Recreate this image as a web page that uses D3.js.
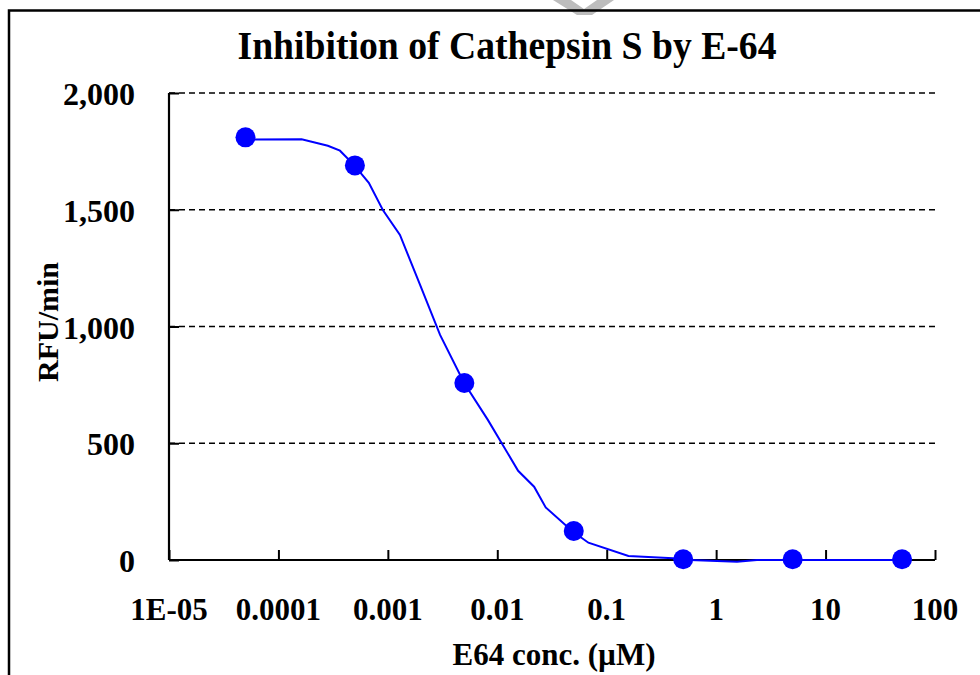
<!DOCTYPE html>
<html>
<head>
<meta charset="utf-8">
<script src="https://cdn.jsdelivr.net/npm/d3@7"></script>
<style>
  html, body { margin: 0; padding: 0; background: #fff; }
  svg { display: block; }
</style>
</head>
<body>
<svg id="chart" width="980" height="675"></svg>
<script>
// ---- data ----
const titleText = "Inhibition of Cathepsin S by E-64";
const xTitle = "E64 conc. (\u00b5M)";
const yTitle = "RFU/min";

// measured points (E64 concentration in µM, RFU/min)
const concentrations = [0.00005, 0.0005, 0.005, 0.05, 0.5, 5, 50];
const rfuValues = [1810, 1690, 758, 124, 3, 3, 3];

// fitted curve
const fitConc = [0.00005, 0.000163, 0.000283, 0.000365, 0.00049, 0.00067, 0.0009, 0.00129, 0.00197, 0.003, 0.00498, 0.0082, 0.0155, 0.0217, 0.0277, 0.0483, 0.068, 0.158, 0.405, 0.5, 1.55, 2.36, 50];
const fitRfu  = [1801, 1802, 1774, 1753, 1692, 1615, 1499, 1392, 1178, 964, 758, 600, 382, 314, 225, 124, 74, 17, 7, 1, -7, 0, 0];

const xTickValues = [1e-5, 1e-4, 1e-3, 1e-2, 1e-1, 1, 10, 100];
const xTickLabels = ["1E-05", "0.0001", "0.001", "0.01", "0.1", "1", "10", "100"];
const yTickValues = [0, 500, 1000, 1500, 2000];
const yTickLabels = ["0", "500", "1,000", "1,500", "2,000"];

// ---- drawing ----
const svg = d3.select("#chart");
const font = "'Liberation Serif', 'Times New Roman', Times, serif";

const x = d3.scaleLog().domain([1e-5, 100]).range([169, 935]);
const y = d3.scaleLinear().domain([0, 2000]).range([560, 93]);

// grey mark peeking in at the top edge
svg.append("polygon")
  .attr("points", "553,0 571,0 584,9 597,0 614,0 592,15 577,15")
  .attr("fill", "#bdbdbd");

// outer frame (cropped)
svg.append("rect")
  .attr("x", 9).attr("y", 10.5)
  .attr("width", 1100).attr("height", 1000)
  .attr("fill", "none").attr("stroke", "#000").attr("stroke-width", 2.5);

// title
svg.append("text")
  .attr("x", 507).attr("y", 59)
  .attr("text-anchor", "middle")
  .attr("font-family", font).attr("font-weight", "bold")
  .attr("font-size", 39)
  .attr("textLength", 539).attr("lengthAdjust", "spacingAndGlyphs")
  .text(titleText);

// gridlines
svg.append("g").selectAll("line")
  .data(yTickValues.filter(v => v > 0))
  .join("line")
  .attr("x1", x(1e-5)).attr("x2", x(100))
  .attr("y1", d => y(d)).attr("y2", d => y(d))
  .attr("stroke", "#000").attr("stroke-width", 1.3)
  .attr("stroke-dasharray", "6,4");

// y axis
const yAxis = d3.axisRight(y).tickValues(yTickValues).tickSize(10).tickFormat("");
const gy = svg.append("g").attr("transform", `translate(${x(1e-5)},0)`).call(yAxis);
gy.select(".domain").attr("d", `M0,${y(2000)}V${y(0)}`).attr("stroke-width", 2.2);
gy.selectAll(".tick line").attr("stroke-width", 2);

// y tick labels
svg.append("g").selectAll("text")
  .data(yTickValues)
  .join("text")
  .attr("x", 135).attr("y", d => y(d) + 12)
  .attr("text-anchor", "end")
  .attr("font-family", font).attr("font-weight", "bold").attr("font-size", 32)
  .text((d, i) => yTickLabels[i]);

// x axis
const xAxis = d3.axisTop(x).tickValues(xTickValues).tickSize(10).tickFormat("");
const gx = svg.append("g").attr("transform", `translate(0,${y(0)})`).call(xAxis);
gx.select(".domain").attr("d", `M${x(1e-5)},0H${x(100)}`).attr("stroke-width", 2.2);
gx.selectAll(".tick line").attr("stroke-width", 2);

// x tick labels
svg.append("g").selectAll("text")
  .data(xTickValues)
  .join("text")
  .attr("x", d => x(d)).attr("y", 620)
  .attr("text-anchor", "middle")
  .attr("font-family", font).attr("font-weight", "bold").attr("font-size", 31)
  .text((d, i) => xTickLabels[i]);

// axis titles
svg.append("text")
  .attr("x", 554).attr("y", 665)
  .attr("text-anchor", "middle")
  .attr("font-family", font).attr("font-weight", "bold").attr("font-size", 31)
  .text(xTitle);

svg.append("text")
  .attr("transform", "translate(58,322) rotate(-90)")
  .attr("text-anchor", "middle")
  .attr("font-family", font).attr("font-weight", "bold").attr("font-size", 30)
  .attr("textLength", 120).attr("lengthAdjust", "spacingAndGlyphs")
  .text(yTitle);

// fitted curve
const line = d3.line().x((d, i) => x(fitConc[i])).y(d => y(d));
svg.append("path")
  .datum(fitRfu)
  .attr("d", line)
  .attr("fill", "none").attr("stroke", "#0000ff").attr("stroke-width", 2);

// data points
svg.append("g").selectAll("circle")
  .data(rfuValues)
  .join("circle")
  .attr("cx", (d, i) => x(concentrations[i]))
  .attr("cy", d => y(d))
  .attr("r", 10)
  .attr("fill", "#0000ff");
</script>
</body>
</html>
